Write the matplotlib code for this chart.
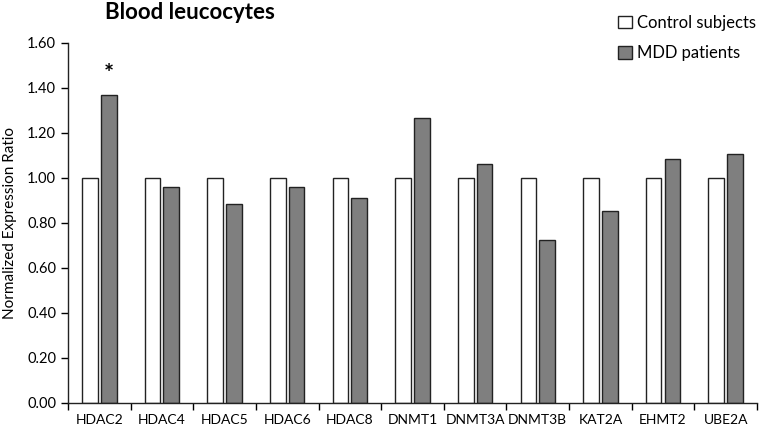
import numpy as np
import matplotlib
matplotlib.use('Agg')
from matplotlib import pyplot as plt

genes = ['HDAC2', 'HDAC4', 'HDAC5', 'HDAC6', 'HDAC8', 'DNMT1',
         'DNMT3A', 'DNMT3B', 'KAT2A', 'EHMT2', 'UBE2A']
control = [1.00, 1.00, 1.00, 1.00, 1.00, 1.00, 1.00, 1.00, 1.00, 1.00, 1.00]
mdd = [1.37, 0.96, 0.885, 0.96, 0.91, 1.265, 1.06, 0.725, 0.855, 1.085, 1.105]
yticks = [0.0, 0.2, 0.4, 0.6, 0.8, 1.0, 1.2, 1.4, 1.6]

plt.rcParams['font.family'] = ['Lato', 'DejaVu Sans']

fig = plt.figure(figsize=(7.62, 4.30), dpi=100)
ax = fig.add_axes([0.0892, 0.0628, 0.9042, 0.8372])

x = np.arange(len(genes))
w = 0.25
ax.bar(x - 0.15, control, w, color='white', edgecolor='#222222', linewidth=1.0,
       label='Control subjects')
ax.bar(x + 0.15, mdd, w, color='#7f7f7f', edgecolor='#222222', linewidth=1.0,
       label='MDD patients')

# significance mark
ax.text(x[0] + 0.15, mdd[0] + 0.09, '*', ha='center', va='center',
        fontsize=17, fontweight='bold')

ax.set_xlim(-0.5, len(genes) - 0.5)
ax.set_ylim(0, 1.6)
ax.set_yticks(yticks)
ax.set_yticklabels(['%.2f' % v for v in yticks], fontsize=10.5)
ax.set_xticks(x)
ax.set_xticklabels(genes, fontsize=10)
ax.tick_params(axis='x', length=0, pad=8)
ax.set_xticks(np.arange(len(genes) + 1) - 0.5, minor=True)
ax.tick_params(axis='x', which='minor', length=5, direction='out', width=1)
ax.tick_params(axis='y', length=5, direction='out', width=1)

for s in ['top', 'right']:
    ax.spines[s].set_visible(False)
for s in ['left', 'bottom']:
    ax.spines[s].set_linewidth(1.0)
    ax.spines[s].set_color('#222222')

ax.set_ylabel('Normalized Expression Ratio', fontsize=11, labelpad=7)
fig.text(0.138, 0.972, 'Blood leucocytes', fontsize=16, fontweight='bold',
         ha='left', va='center')

leg = ax.legend(loc='upper right', bbox_to_anchor=(1.02, 1.12), frameon=False,
                fontsize=12, handlelength=0.8, handleheight=0.8,
                handletextpad=0.3, labelspacing=0.85)

fig.savefig('out.png', dpi=100)
